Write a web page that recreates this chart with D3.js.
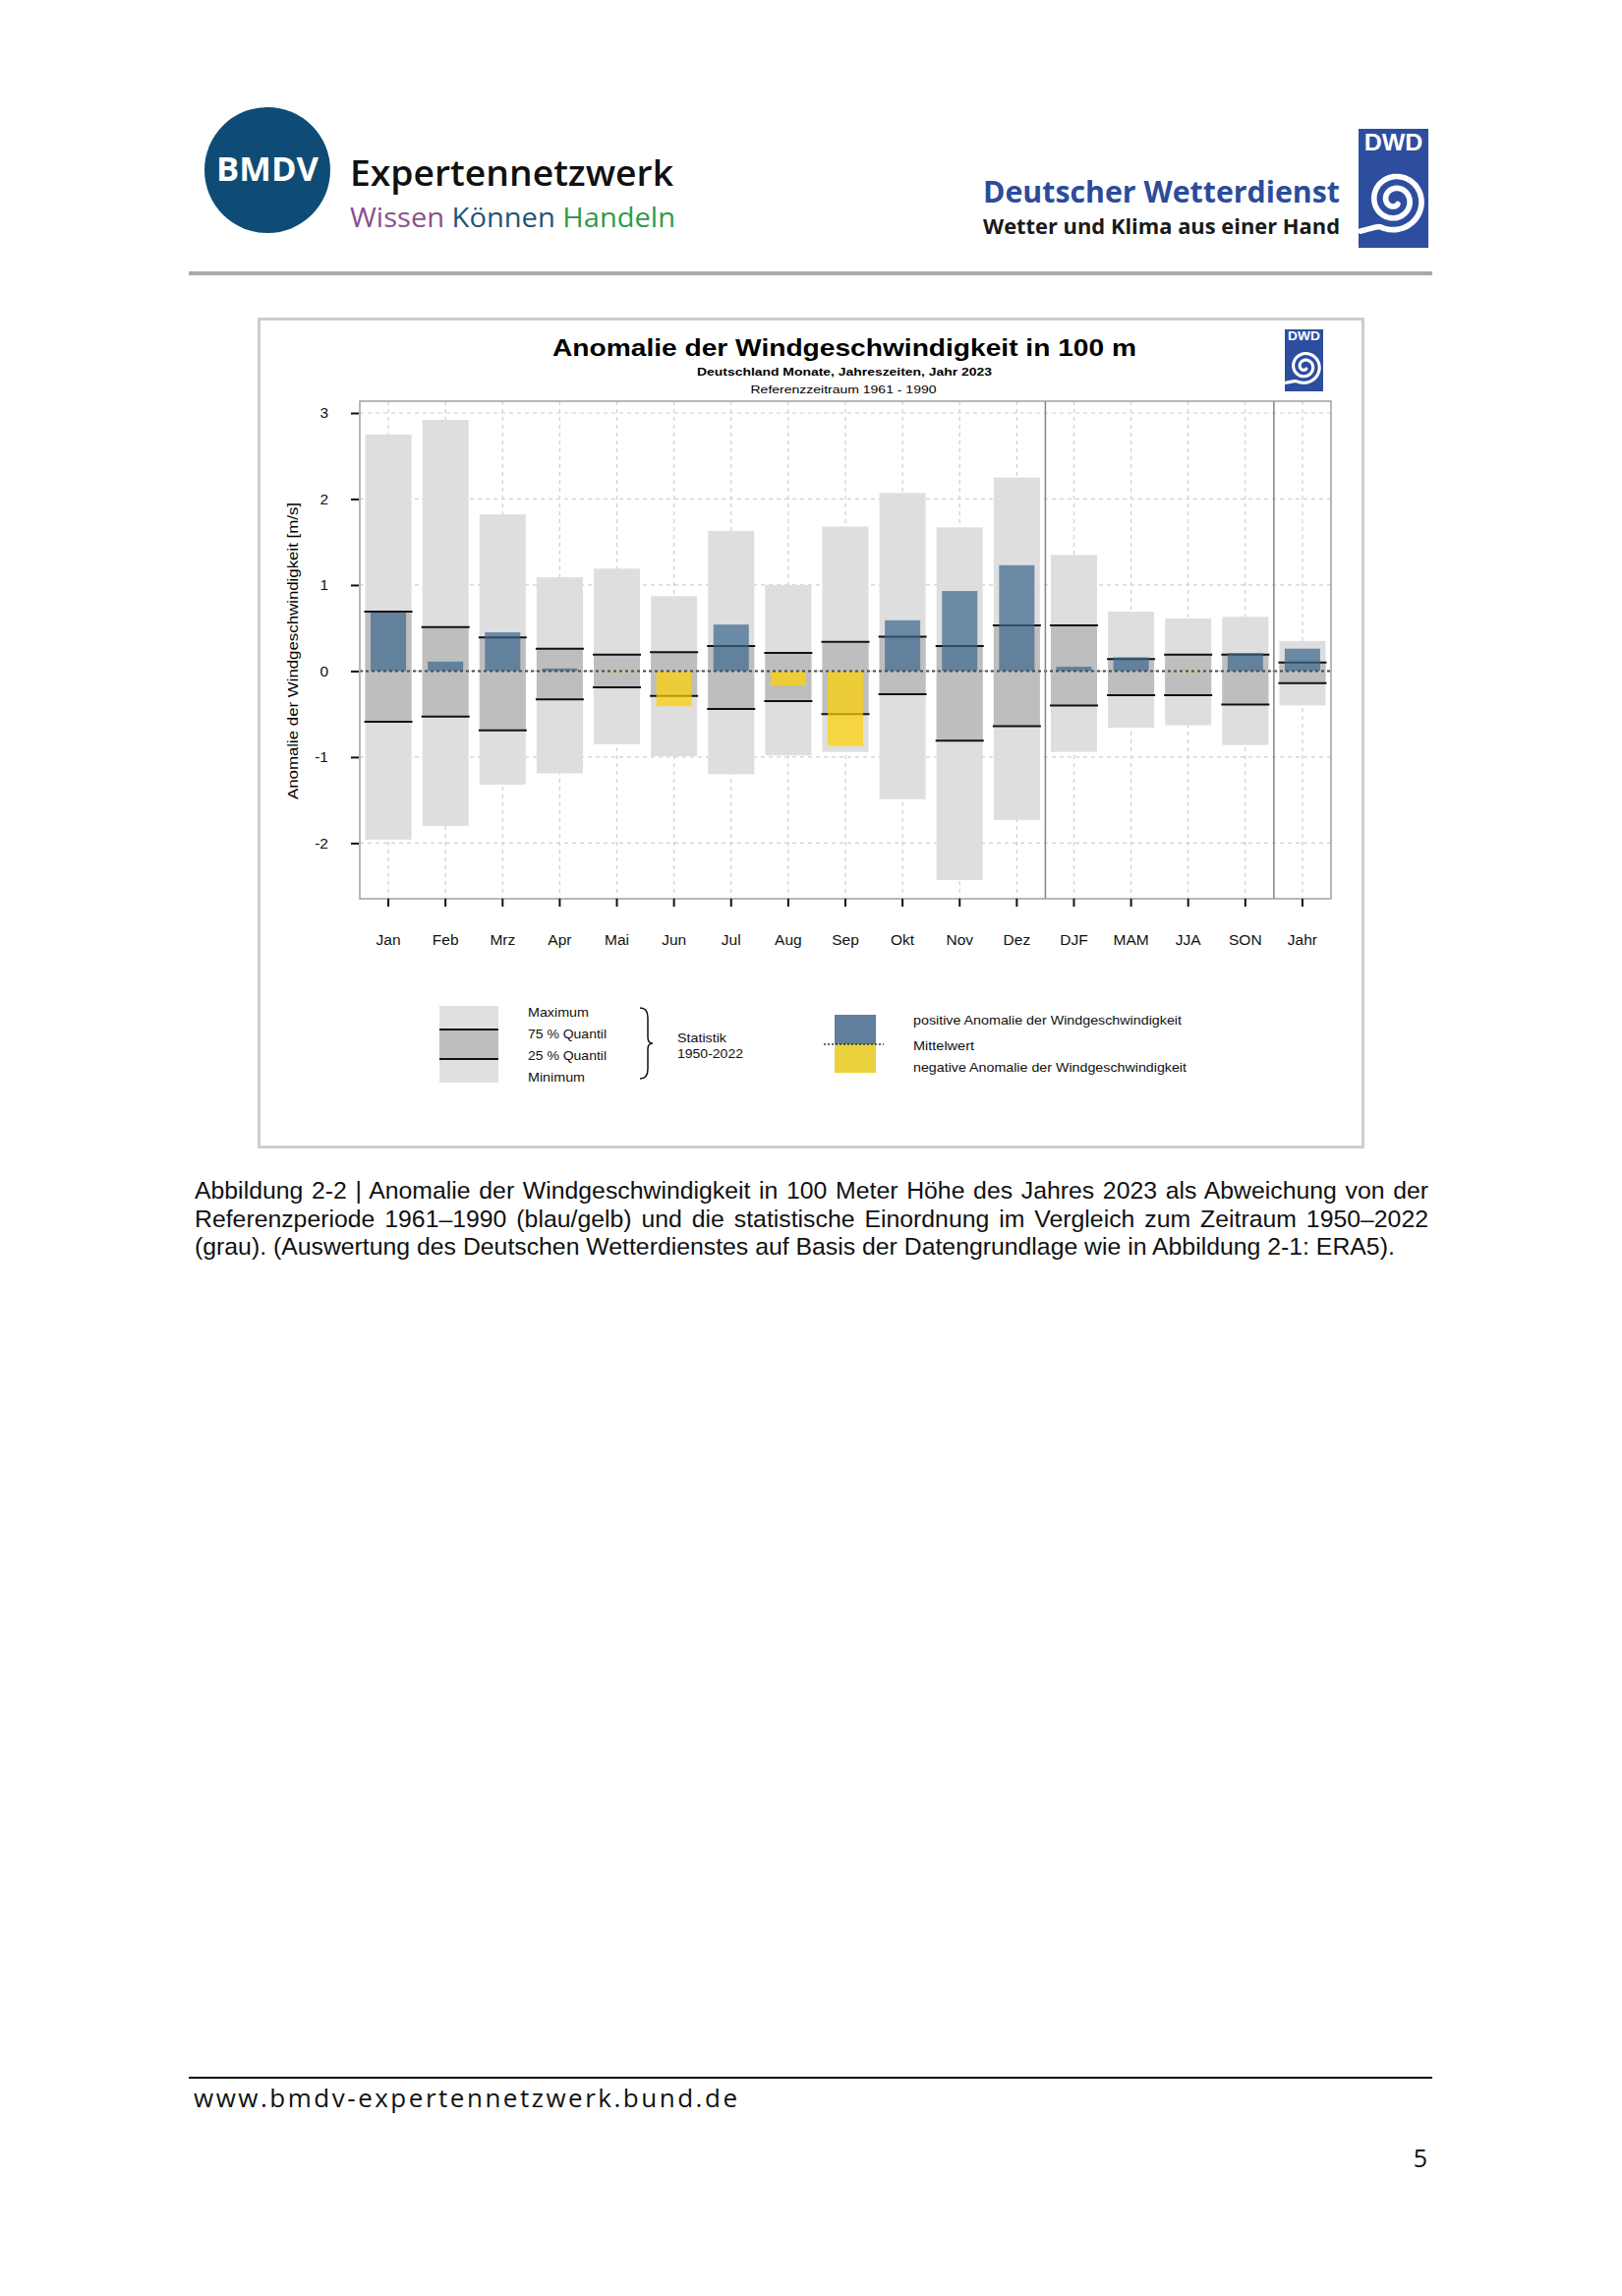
<!DOCTYPE html>
<html><head><meta charset="utf-8">
<script src="https://cdn.jsdelivr.net/npm/d3@7"></script>
<style>body{margin:0;background:#fff;} svg{display:block;}</style>
</head><body>
<svg id="page" width="1650" height="2335"></svg>
<script>
// ---------- data ----------
const categories = ["Jan","Feb","Mrz","Apr","Mai","Jun","Jul","Aug","Sep","Okt","Nov","Dez","DJF","MAM","JJA","SON","Jahr"];
const maxValues = [2.75, 2.92, 1.82, 1.09, 1.19, 0.87, 1.63, 1.00, 1.68, 2.07, 1.67, 2.25, 1.35, 0.69, 0.61, 0.63, 0.35];
const q75Values = [0.69, 0.51, 0.39, 0.26, 0.19, 0.22, 0.29, 0.21, 0.34, 0.40, 0.29, 0.53, 0.53, 0.14, 0.19, 0.19, 0.10];
const q25Values = [-0.59, -0.53, -0.69, -0.33, -0.19, -0.29, -0.44, -0.35, -0.50, -0.27, -0.81, -0.64, -0.40, -0.28, -0.28, -0.39, -0.14];
const minValues = [-1.96, -1.80, -1.32, -1.19, -0.85, -0.99, -1.20, -0.98, -0.94, -1.49, -2.43, -1.73, -0.94, -0.66, -0.63, -0.86, -0.40];
const anomalyValues = [0.68, 0.11, 0.45, 0.03, -0.01, -0.41, 0.54, -0.17, -0.87, 0.59, 0.93, 1.23, 0.05, 0.16, -0.01, 0.21, 0.26];
const yTickValues = [-2, -1, 0, 1, 2, 3];
const yDomain = [-2.647, 3.137];
const groupStarts = ["DJF", "Jahr"];

const chartTitle = "Anomalie der Windgeschwindigkeit in 100 m";
const chartSubtitle = "Deutschland Monate, Jahreszeiten, Jahr 2023";
const chartRefPeriod = "Referenzzeitraum 1961 - 1990";
const yAxisTitle = "Anomalie der Windgeschwindigkeit [m/s]";
const legendStatLabels = ["Maximum", "75 % Quantil", "25 % Quantil", "Minimum"];
const legendStatNote = ["Statistik", "1950-2022"];
const legendAnomalyLabels = ["positive Anomalie der Windgeschwindigkeit", "Mittelwert", "negative Anomalie der Windgeschwindigkeit"];
const captionLines = [
  "Abbildung 2-2 | Anomalie der Windgeschwindigkeit in 100 Meter Höhe des Jahres 2023 als Abweichung von der",
  "Referenzperiode 1961–1990 (blau/gelb) und die statistische Einordnung im Vergleich zum Zeitraum 1950–2022",
  "(grau). (Auswertung des Deutschen Wetterdienstes auf Basis der Datengrundlage wie in Abbildung 2-1: ERA5)."
];

// ---------- styles ----------
const C = {
  light: "#dedede", dark: "#bebebe", blue: "rgb(58,102,142)", yellow: "rgb(255,210,0)",
  legBlue: "#5f7f9c", legYellow: "#ebd13b", grid: "#cfcfcf", dwd: "#2d4e9f", bmdv: "#0f4c75"
};
const CHART_FONT = "'Liberation Sans', Arial, Helvetica, sans-serif";
const HEAD_FONT = "'Open Sans', 'Noto Sans', sans-serif";

const svg = d3.select("#page");
svg.append("rect").attr("width", 1650).attr("height", 2335).attr("fill", "#fff");

// ---------- page header ----------
const head = svg.append("g");
head.append("circle").attr("cx", 272).attr("cy", 173).attr("r", 64).attr("fill", C.bmdv);
head.append("text").attr("x", 220).attr("y", 184).attr("font-family", HEAD_FONT).attr("font-weight", 700)
  .attr("font-size", 34).attr("fill", "#fff").attr("textLength", 104).attr("lengthAdjust", "spacingAndGlyphs").text("BMDV");
head.append("text").attr("x", 356).attr("y", 189).attr("font-family", HEAD_FONT).attr("font-weight", 600)
  .attr("font-size", 36).attr("fill", "#111").attr("textLength", 329).attr("lengthAdjust", "spacingAndGlyphs").text("Expertennetzwerk");
const wkh = head.append("text").attr("x", 356).attr("y", 231).attr("font-family", HEAD_FONT)
  .attr("font-size", 28).attr("textLength", 331).attr("lengthAdjust", "spacingAndGlyphs");
wkh.append("tspan").attr("fill", "#8b4f8f").text("Wissen ");
wkh.append("tspan").attr("fill", "#1d5478").text("Können ");
wkh.append("tspan").attr("fill", "#2e9b48").text("Handeln");

head.append("text").attr("x", 1000).attr("y", 206).attr("font-family", HEAD_FONT).attr("font-weight", 700)
  .attr("font-size", 30).attr("fill", "#2b4c9b").attr("textLength", 363).attr("lengthAdjust", "spacingAndGlyphs").text("Deutscher Wetterdienst");
head.append("text").attr("x", 1000).attr("y", 238).attr("font-family", HEAD_FONT).attr("font-weight", 700)
  .attr("font-size", 21).attr("fill", "#1a1a1a").attr("textLength", 363).attr("lengthAdjust", "spacingAndGlyphs").text("Wetter und Klima aus einer Hand");

function dwdLogo(g, x, y, w, h) {
  g.append("rect").attr("x", x).attr("y", y).attr("width", w).attr("height", h).attr("fill", C.dwd);
  g.append("text").attr("x", x + w * 0.08).attr("y", y + h * 0.18).attr("font-family", CHART_FONT)
    .attr("font-weight", 700).attr("font-size", h * 0.19).attr("fill", "#fff")
    .attr("textLength", w * 0.84).attr("lengthAdjust", "spacingAndGlyphs").text("DWD");
  const cx = x + w * 0.52, cy = y + h * 0.6;
  const tEnd = 4.4 * Math.PI;
  const turns = d3.range(0, tEnd, 0.08);
  const rMax = w * 0.44;
  const pts = turns.map(t => {
    const r = w * 0.07 + (rMax - w * 0.07) * t / tEnd;
    return [cx + r * Math.cos(t + Math.PI * 0.3), cy + r * Math.sin(t + Math.PI * 0.3)];
  });
  pts.push([x + w * 0.03, y + h * 0.86]);
  g.append("path").attr("d", d3.line().curve(d3.curveBasis)(pts)).attr("fill", "none")
    .attr("stroke", "#fff").attr("stroke-width", w * 0.08).attr("stroke-linecap", "round");
}
dwdLogo(head, 1382, 131, 71, 121);

head.append("rect").attr("x", 192).attr("y", 276).attr("width", 1265).attr("height", 4).attr("fill", "#a9a9a9");

// ---------- chart frame ----------
svg.append("rect").attr("x", 263.5).attr("y", 324.5).attr("width", 1123).attr("height", 842)
  .attr("fill", "#fff").attr("stroke", "#cdcdcd").attr("stroke-width", 3);

const chart = svg.append("g").attr("font-family", CHART_FONT);
chart.append("text").attr("x", 859).attr("y", 362).attr("text-anchor", "middle").attr("font-weight", 700)
  .attr("font-size", 24).attr("textLength", 594).attr("lengthAdjust", "spacingAndGlyphs").text(chartTitle);
chart.append("text").attr("x", 859).attr("y", 382).attr("text-anchor", "middle").attr("font-weight", 700)
  .attr("font-size", 11.5).attr("textLength", 300).attr("lengthAdjust", "spacingAndGlyphs").text(chartSubtitle);
chart.append("text").attr("x", 858).attr("y", 400).attr("text-anchor", "middle")
  .attr("font-size", 11.5).attr("textLength", 189).attr("lengthAdjust", "spacingAndGlyphs").text(chartRefPeriod);
dwdLogo(chart, 1307, 335, 39, 63);

// ---------- scales ----------
const P = { left: 366, right: 1354, top: 408, bottom: 914 };
const x = d3.scaleBand().domain(categories).range([P.left, P.right]).paddingInner(0).paddingOuter(0);
const y = d3.scaleLinear().domain(yDomain).range([P.bottom, P.top]);
const cxOf = c => x(c) + x.bandwidth() / 2;

// grid
const grid = chart.append("g").attr("stroke", C.grid).attr("stroke-width", 1.2).attr("stroke-dasharray", "4,4");
grid.selectAll("line.v").data(categories).join("line").attr("class", "v")
  .attr("x1", d => cxOf(d)).attr("x2", d => cxOf(d)).attr("y1", P.top).attr("y2", P.bottom);
grid.selectAll("line.h").data(yTickValues).join("line").attr("class", "h")
  .attr("x1", P.left).attr("x2", P.right).attr("y1", d => y(d)).attr("y2", d => y(d));

// bars
const rows = categories.map((c, i) => ({
  c, max: maxValues[i], q75: q75Values[i], q25: q25Values[i], min: minValues[i], a: anomalyValues[i]
}));
const bars = chart.append("g");
const gw = 47, lw = 49, aw = 36;
bars.selectAll("rect.range").data(rows).join("rect").attr("class", "range")
  .attr("x", d => cxOf(d.c) - gw / 2).attr("width", gw)
  .attr("y", d => y(d.max)).attr("height", d => y(d.min) - y(d.max)).attr("fill", C.light);
bars.selectAll("rect.iqr").data(rows).join("rect").attr("class", "iqr")
  .attr("x", d => cxOf(d.c) - gw / 2).attr("width", gw)
  .attr("y", d => y(d.q75)).attr("height", d => y(d.q25) - y(d.q75)).attr("fill", C.dark);
["q75", "q25"].forEach(k => {
  bars.selectAll("line." + k).data(rows).join("line").attr("class", k)
    .attr("x1", d => cxOf(d.c) - lw / 2).attr("x2", d => cxOf(d.c) + lw / 2)
    .attr("y1", d => y(d[k])).attr("y2", d => y(d[k])).attr("stroke", "#111").attr("stroke-width", 2);
});
bars.selectAll("rect.anom").data(rows).join("rect").attr("class", "anom")
  .attr("x", d => cxOf(d.c) - aw / 2).attr("width", aw)
  .attr("y", d => Math.min(y(0), y(d.a))).attr("height", d => Math.abs(y(d.a) - y(0)))
  .attr("fill", d => d.a >= 0 ? C.blue : C.yellow).attr("fill-opacity", 0.7);

// zero line
chart.append("line").attr("x1", P.left).attr("x2", P.right).attr("y1", y(0)).attr("y2", y(0))
  .attr("stroke", "#4a4a4a").attr("stroke-width", 2).attr("stroke-dasharray", "3,3");

// separators and border
chart.selectAll("line.sep").data(groupStarts).join("line").attr("class", "sep")
  .attr("x1", d => x(d)).attr("x2", d => x(d)).attr("y1", P.top).attr("y2", P.bottom)
  .attr("stroke", "#858585").attr("stroke-width", 1.5);
chart.append("rect").attr("x", P.left).attr("y", P.top).attr("width", P.right - P.left).attr("height", P.bottom - P.top)
  .attr("fill", "none").attr("stroke", "#a0a0a0").attr("stroke-width", 1.5);

// axes
const yAxis = chart.append("g").attr("transform", `translate(${P.left - 1},0)`)
  .call(d3.axisLeft(y).tickValues(yTickValues).tickFormat(d3.format("d")).tickSize(8).tickPadding(23));
const xAxis = chart.append("g").attr("transform", `translate(0,${P.bottom})`)
  .call(d3.axisBottom(x).tickSize(8).tickPadding(28));
[yAxis, xAxis].forEach(a => {
  a.select(".domain").remove();
  a.selectAll(".tick line").attr("stroke", "#111").attr("stroke-width", 2);
  a.selectAll(".tick text").attr("font-family", CHART_FONT).attr("font-size", 15.5).attr("fill", "#111");
});
yAxis.selectAll(".tick text").text(d => d < 0 ? "-" + Math.abs(d) : d);

chart.append("text").attr("transform", "translate(303,662) rotate(-90)").attr("text-anchor", "middle")
  .attr("font-size", 15).attr("textLength", 302).attr("lengthAdjust", "spacingAndGlyphs").text(yAxisTitle);

// ---------- legend ----------
const leg = chart.append("g").attr("font-size", 13).attr("fill", "#111");
leg.append("rect").attr("x", 447).attr("y", 1023).attr("width", 60).attr("height", 78).attr("fill", "#e0e0e0");
leg.append("rect").attr("x", 447).attr("y", 1047).attr("width", 60).attr("height", 30).attr("fill", C.dark);
[1047, 1077].forEach(v => leg.append("line").attr("x1", 447).attr("x2", 507).attr("y1", v).attr("y2", v)
  .attr("stroke", "#111").attr("stroke-width", 2));
const statY = [1034, 1056, 1078, 1100];
const statW = [62, 80, 80, 58];
legendStatLabels.forEach((t, i) => leg.append("text").attr("x", 537).attr("y", statY[i])
  .attr("textLength", statW[i]).attr("lengthAdjust", "spacingAndGlyphs").text(t));
leg.append("path").attr("d", "M651,1025 Q659,1025 659,1035 L659,1055 Q659,1061 664,1061 Q659,1061 659,1067 L659,1087 Q659,1097 651,1097")
  .attr("fill", "none").attr("stroke", "#111").attr("stroke-width", 1.5);
const noteW = [50, 67];
legendStatNote.forEach((t, i) => leg.append("text").attr("x", 689).attr("y", [1059.5, 1076][i])
  .attr("textLength", noteW[i]).attr("lengthAdjust", "spacingAndGlyphs").text(t));

leg.append("rect").attr("x", 849).attr("y", 1032).attr("width", 42).attr("height", 30).attr("fill", C.legBlue);
leg.append("rect").attr("x", 849).attr("y", 1062).attr("width", 42).attr("height", 29).attr("fill", C.legYellow);
leg.append("line").attr("x1", 838).attr("x2", 899).attr("y1", 1062).attr("y2", 1062)
  .attr("stroke", "#333").attr("stroke-width", 1.5).attr("stroke-dasharray", "2,2");
const anomY = [1042, 1068, 1090];
const anomW = [273, 62, 278];
legendAnomalyLabels.forEach((t, i) => leg.append("text").attr("x", 929).attr("y", anomY[i])
  .attr("textLength", anomW[i]).attr("lengthAdjust", "spacingAndGlyphs").text(t));

// ---------- caption ----------
const cap = svg.append("g").attr("font-family", CHART_FONT).attr("font-size", 24.8).attr("fill", "#111");
const capBase = [1219, 1247.5, 1276];
captionLines.forEach((t, i) => {
  const tx = cap.append("text").attr("x", 198).attr("y", capBase[i]).text(t);
  if (i < 2) {
    const len = tx.node().getComputedTextLength();
    const spaces = (t.match(/ /g) || []).length;
    tx.attr("word-spacing", (1453 - 198 - len) / spaces);
  }
});

// ---------- footer ----------
svg.append("rect").attr("x", 192).attr("y", 2112).attr("width", 1265).attr("height", 2).attr("fill", "#111");
svg.append("text").attr("x", 197).attr("y", 2143).attr("font-family", HEAD_FONT).attr("font-size", 26)
  .attr("fill", "#111").attr("textLength", 553).attr("lengthAdjust", "spacing").text("www.bmdv-expertennetzwerk.bund.de");
svg.append("text").attr("x", 1452).attr("y", 2204).attr("text-anchor", "end").attr("font-family", HEAD_FONT)
  .attr("font-size", 25).attr("fill", "#111").text("5");
</script>
</body></html>
